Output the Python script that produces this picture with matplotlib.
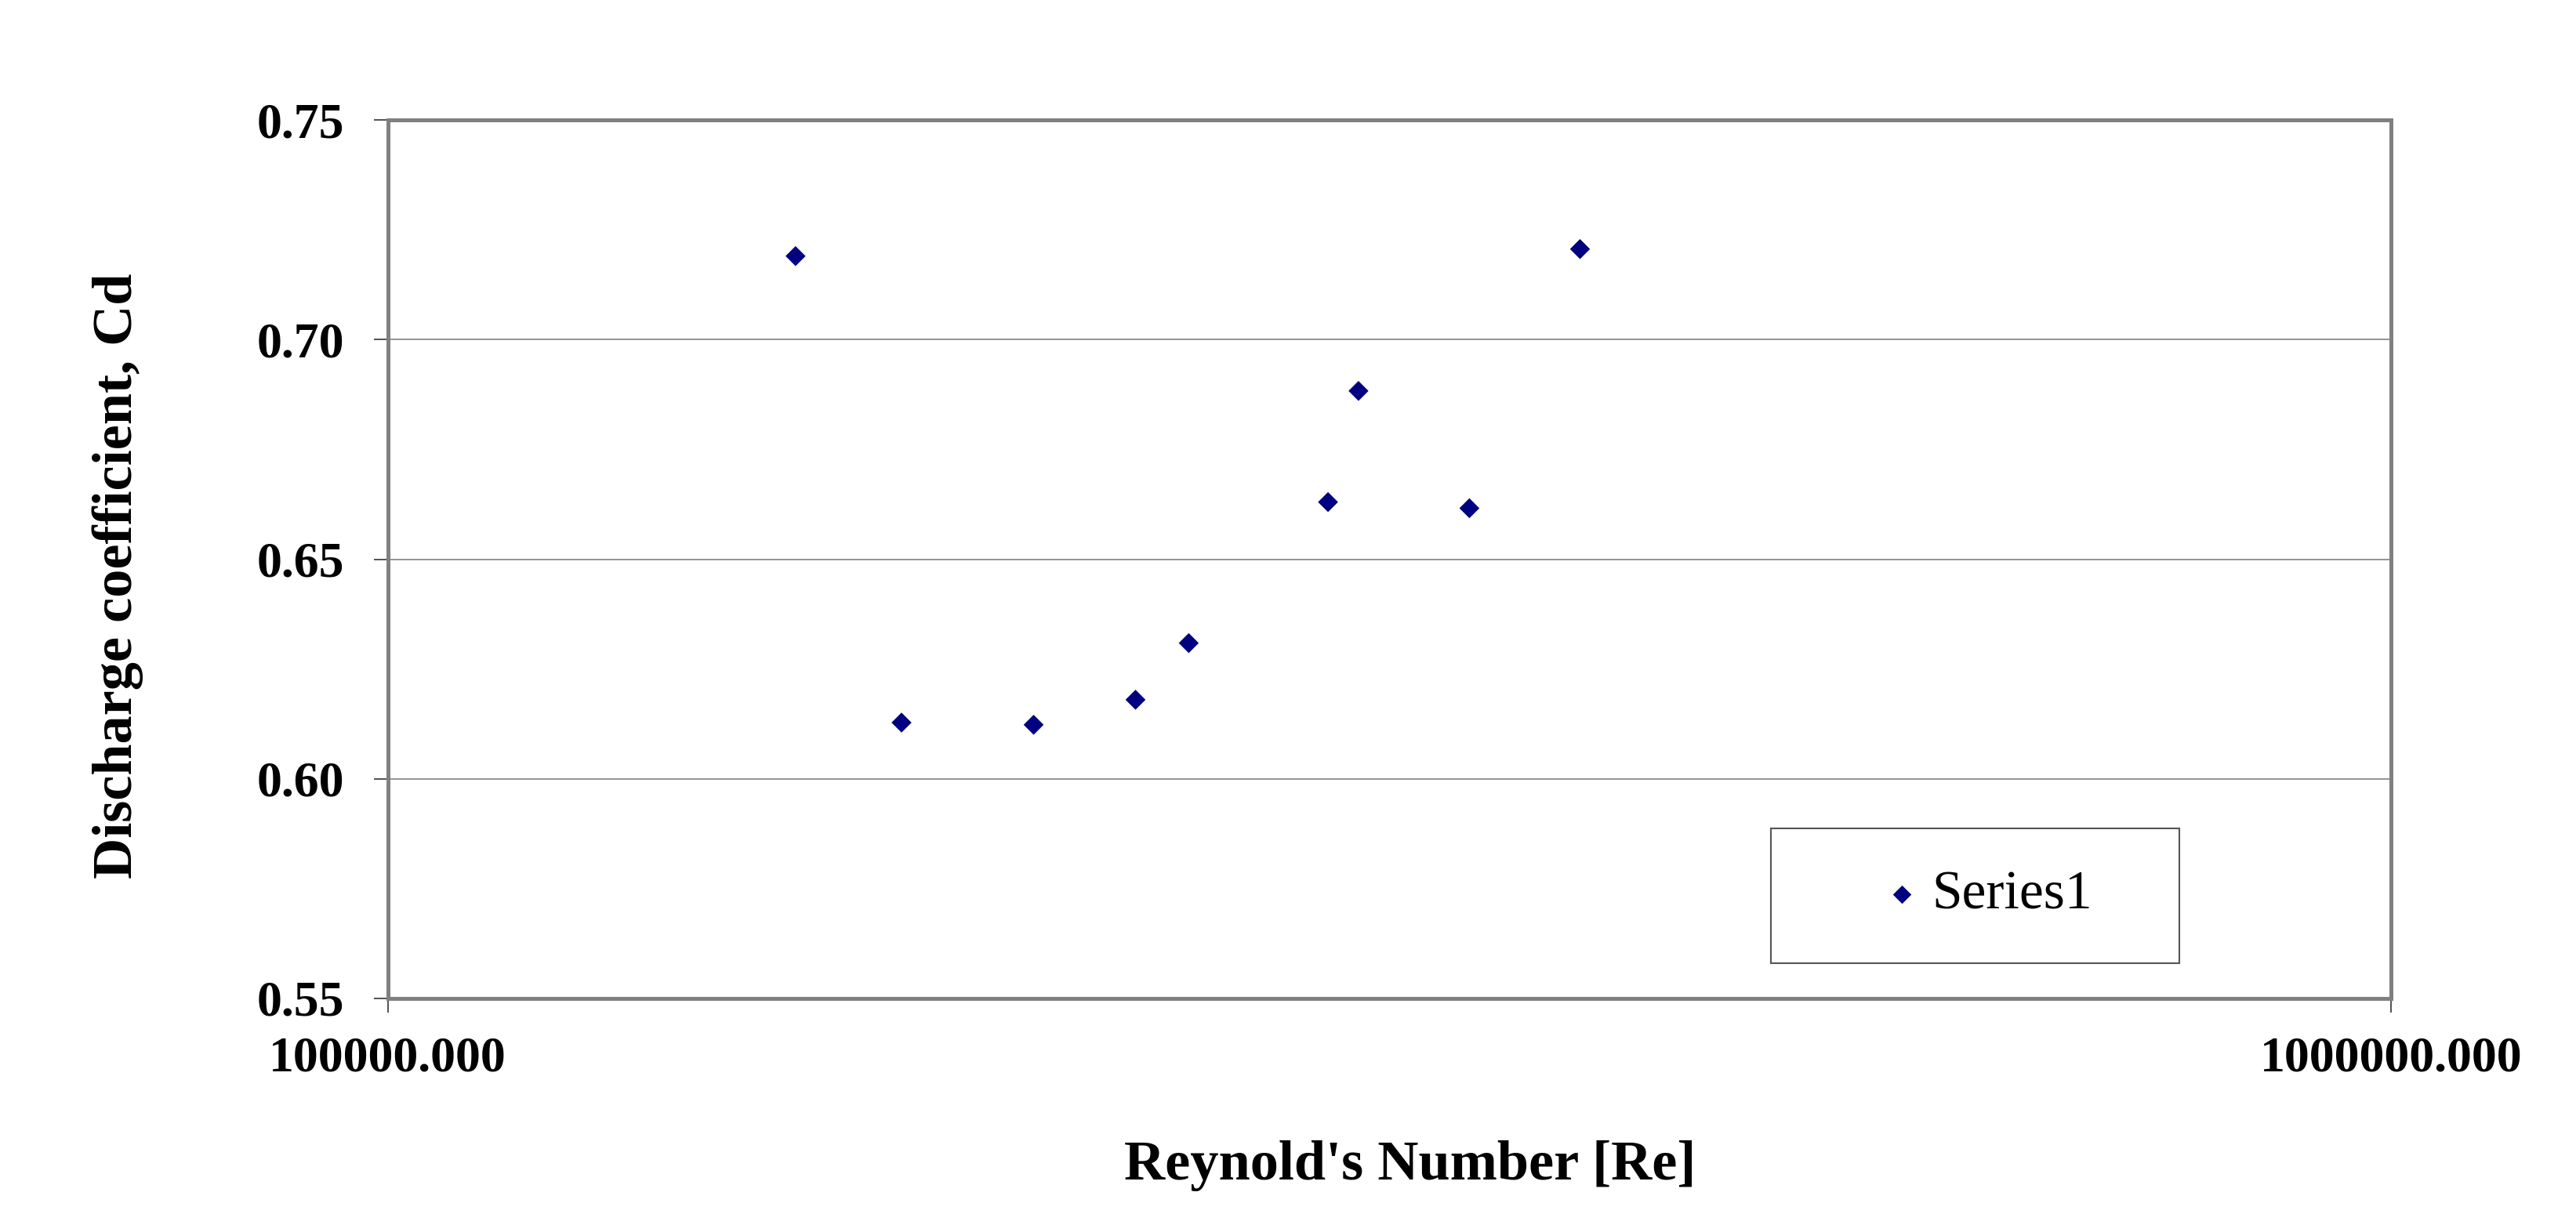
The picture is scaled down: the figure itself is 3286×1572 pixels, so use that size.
import matplotlib
matplotlib.use("Agg")
import matplotlib.pyplot as plt
from matplotlib.ticker import FixedLocator, NullLocator, FuncFormatter
from matplotlib.patches import Rectangle

# Data
reynolds = [159800, 180500, 210100, 236200, 251100, 294700, 305200, 346700, 393700]
cd = [0.7190, 0.6128, 0.6123, 0.6180, 0.6309, 0.6630, 0.6883, 0.6616, 0.7206]
series_name = "Series1"
y_ticks = [0.55, 0.60, 0.65, 0.70, 0.75]
x_ticks = [100000, 1000000]
x_label = "Reynold's Number [Re]"
y_label = "Discharge coefficient, Cd"

W, H, DPI = 3286, 1572, 100
fig = plt.figure(figsize=(W / DPI, H / DPI), dpi=DPI)
fig.patch.set_facecolor("white")

serif = ["Liberation Serif", "DejaVu Serif"]

left, right = 494.6 / W, 3050 / W
bottom, top = 1 - 1274 / H, 1 - 153 / H
ax = fig.add_axes([left, bottom, right - left, top - bottom])

ax.scatter(reynolds, cd, marker="D", s=13 ** 2, color="#000080",
           edgecolors="none", zorder=3, label=series_name)

ax.set_xscale("log")
ax.set_xlim(1e5, 1e6)
ax.set_ylim(0.55, 0.75)
ax.xaxis.set_major_locator(FixedLocator(x_ticks))
ax.xaxis.set_minor_locator(NullLocator())
ax.xaxis.set_major_formatter(FuncFormatter(lambda v, p: f"{v:.3f}"))
ax.yaxis.set_major_locator(FixedLocator(y_ticks))
ax.yaxis.set_major_formatter(FuncFormatter(lambda v, p: f"{v:.2f}"))

ax.grid(axis="y", color="#808080", linewidth=1.2, zorder=0)
ax.set_axisbelow(True)
for sp in ax.spines.values():
    sp.set_color("#808080")
    sp.set_linewidth(3.6)

ax.tick_params(axis="both", direction="out", length=13, width=1.2, color="#333333")
ax.tick_params(axis="y", pad=27)
ax.tick_params(axis="x", pad=22)
for lab in ax.get_xticklabels() + ax.get_yticklabels():
    lab.set_fontfamily(serif)
    lab.set_fontweight("bold")
    lab.set_fontsize(46)

fig.text(1799 / W, 1 - 1505 / H, x_label, ha="center", va="baseline",
         fontsize=52, fontweight="bold", family=serif)
fig.text(150 / W, 1 - 735 / H, y_label, ha="center", va="center", rotation=90,
         fontsize=52, fontweight="bold", family=serif)

# legend box
lx0, lx1, ly0, ly1 = 2259, 2780, 1057, 1229
fig.patches.append(Rectangle((lx0 / W, 1 - ly1 / H), (lx1 - lx0) / W, (ly1 - ly0) / H,
                             transform=fig.transFigure, facecolor="white",
                             edgecolor="#555555", linewidth=1.5, zorder=5))
leg = fig.legend(loc="center", bbox_to_anchor=((lx0 + lx1) / 2 / W + 18 / W, 1 - (ly0 + ly1) / 2 / H),
                 frameon=False, prop={"family": serif, "size": 50},
                 handlelength=0.6, handletextpad=0.25, markerscale=0.92)
leg.set_zorder(6)

fig.savefig("out.png", dpi=DPI)
